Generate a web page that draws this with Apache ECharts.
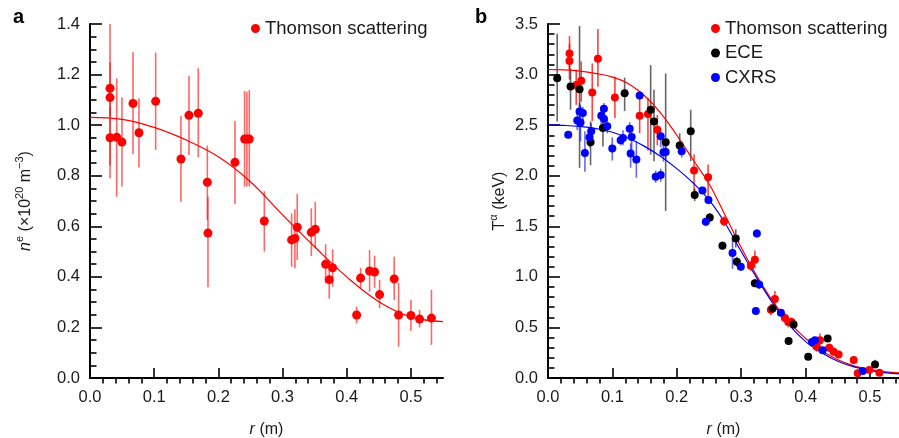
<!DOCTYPE html>
<html><head><meta charset="utf-8">
<script src="https://cdn.jsdelivr.net/npm/echarts@6/dist/echarts.min.js"></script>
<style>html,body{margin:0;padding:0;background:#fff}#c{width:899px;height:438px}</style>
</head><body><div id="c"></div>
<script>
// ---- Panel a: electron density (Thomson scattering) ----
const neR  = [0.0312,0.0312,0.0312,0.0416,0.0498,0.067,0.0763,0.1023,0.1417,0.1542,0.1687,0.1828,0.1838,0.2259,0.2409,0.2445,0.2482,0.2716,0.3141,0.3193,0.3229,0.3448,0.351,0.3671,0.3728,0.378,0.4154,0.4216,0.4356,0.4434,0.4512,0.474,0.4808,0.50,0.5135,0.532];
const neV  = [1.146,1.109,0.950,0.952,0.933,1.086,0.970,1.094,0.866,1.039,1.047,0.774,0.573,0.853,0.945,0.945,0.945,0.621,0.546,0.552,0.596,0.576,0.588,0.450,0.389,0.436,0.249,0.395,0.423,0.419,0.330,0.392,0.249,0.247,0.233,0.237];
const neLo = [1.04,0.79,0.84,0.717,0.757,0.885,0.832,0.902,0.697,0.882,0.873,0.625,0.359,0.688,0.757,0.757,0.757,0.50,0.44,0.434,0.467,0.482,0.513,0.374,0.314,0.361,0.216,0.355,0.341,0.357,0.276,0.308,0.124,0.186,0.20,0.131];
const neHi = [1.25,1.40,1.07,1.185,1.11,1.288,1.106,1.287,1.036,1.194,1.225,0.919,0.717,1.016,1.135,1.132,1.139,0.739,0.651,0.667,0.728,0.671,0.697,0.529,0.46,0.509,0.282,0.436,0.506,0.484,0.388,0.48,0.377,0.308,0.269,0.348];
const neFitR = [0,0.05,0.1,0.15,0.2,0.25,0.3,0.35,0.4,0.45,0.5,0.55];
const neFitV = [1.031,1.023,0.991,0.941,0.875,0.776,0.645,0.519,0.40,0.302,0.242,0.223];

// ---- Panel b: temperatures ----
const tsR  = [0.0334,0.0334,0.0438,0.0516,0.0687,0.0775,0.1039,0.1423,0.1552,0.1698,0.2268,0.2486,0.2734,0.3149,0.3212,0.346,0.3523,0.3678,0.373,0.3782,0.4171,0.4222,0.4367,0.4435,0.4513,0.4747,0.4809,0.4989,0.5145];
const tsT  = [3.209,3.133,2.897,2.94,2.822,3.156,2.773,2.593,2.609,2.455,2.052,1.986,1.551,1.111,1.17,0.675,0.78,0.593,0.554,0.554,0.308,0.374,0.298,0.259,0.233,0.177,0.046,0.079,0.052];
const tsLo = [3.05,2.95,2.70,2.73,2.54,2.88,2.57,2.42,2.25,2.30,1.85,1.73,1.50,1.06,1.09,0.62,0.70,0.55,0.50,0.51,0.26,0.30,0.26,0.22,0.20,0.14,0.02,0.05,0.03];
const tsHi = [3.38,3.30,3.05,3.13,3.11,3.45,2.98,2.82,2.77,2.60,2.21,2.11,1.60,1.16,1.26,0.73,0.86,0.64,0.61,0.60,0.35,0.44,0.34,0.30,0.27,0.21,0.07,0.11,0.08];

const eceR  = [0.0143,0.035,0.049,0.0661,0.0853,0.119,0.1594,0.1646,0.1827,0.2045,0.2216,0.2278,0.2512,0.2709,0.2916,0.2932,0.3212,0.3487,0.3736,0.3813,0.404,0.4342,0.5078];
const eceT  = [2.963,2.881,2.855,2.33,2.471,2.815,2.652,2.537,2.33,2.298,2.439,1.809,1.586,1.308,1.38,1.15,0.937,0.688,0.367,0.528,0.21,0.39,0.134];
const eceLo = [2.537,2.652,2.078,2.104,2.29,2.64,2.209,2.144,1.652,2.21,2.144,1.75,1.54,1.27,1.29,1.10,0.90,0.65,0.33,0.49,0.18,0.36,0.10];
const eceHi = [3.405,3.06,3.48,2.537,2.70,2.97,3.094,2.85,3.01,2.42,2.652,1.87,1.63,1.35,1.47,1.20,0.98,0.73,0.40,0.57,0.24,0.42,0.18];

const cxR  = [0.0314,0.0454,0.049,0.0505,0.0541,0.0573,0.0645,0.0671,0.0827,0.0868,0.0868,0.092,0.0998,0.1128,0.1164,0.1268,0.1283,0.1299,0.1372,0.1423,0.1672,0.175,0.175,0.1792,0.1827,0.2076,0.2398,0.245,0.2491,0.2865,0.2994,0.3227,0.3243,0.3279,0.3616,0.4098,0.4145,0.4264,0.4886];
const cxT  = [2.406,2.547,2.635,2.527,2.619,2.225,2.38,2.439,2.593,2.662,2.563,2.488,2.268,2.35,2.373,2.465,2.219,2.383,2.16,2.793,1.989,2.006,2.389,2.232,2.235,2.242,1.855,1.544,1.76,1.236,1.101,0.662,1.429,0.924,0.646,0.357,0.374,0.275,0.069];
const cxLo = [2.37,2.45,2.55,2.34,2.55,2.04,2.28,2.36,2.50,2.60,2.45,2.42,2.15,2.30,2.30,2.40,2.08,2.25,1.98,2.76,1.93,1.94,2.28,2.14,2.16,2.18,1.82,1.50,1.72,1.08,1.06,0.63,1.39,0.88,0.61,0.33,0.35,0.25,0.05];
const cxHi = [2.44,2.65,2.72,2.70,2.68,2.44,2.48,2.52,2.68,2.72,2.66,2.56,2.38,2.40,2.45,2.53,2.32,2.50,2.34,2.83,2.05,2.07,2.45,2.32,2.31,2.30,1.89,1.58,1.80,1.39,1.14,0.70,1.47,0.96,0.68,0.39,0.40,0.30,0.09];

const tFitR    = [0,0.025,0.05,0.075,0.1,0.125,0.15,0.175,0.2,0.225,0.25,0.275,0.3,0.325,0.35,0.375,0.4,0.425,0.45,0.475,0.5,0.525,0.545];
const tFitRed  = [3.05,3.047,3.035,3.01,2.975,2.91,2.79,2.62,2.40,2.16,1.92,1.61,1.29,1.0,0.75,0.55,0.39,0.27,0.18,0.12,0.085,0.06,0.05];
const tFitBlue = [2.5,2.497,2.487,2.465,2.43,2.37,2.29,2.19,2.07,1.93,1.76,1.53,1.25,0.98,0.73,0.52,0.36,0.25,0.165,0.11,0.075,0.05,0.04];

const xMajor = [0,0.1,0.2,0.3,0.4,0.5];
const xMinor = [0.02,0.04,0.06,0.08,0.12,0.14,0.16,0.18,0.22,0.24,0.26,0.28,0.32,0.34,0.36,0.38,0.42,0.44,0.46,0.48,0.52,0.54];

const FONT = 'Liberation Sans, Arial, Helvetica, sans-serif';
const TXT = '#1a1a1a';
const TICKFS = 16.5;

function zip(a,b){ return a.map((v,i)=>[v,b[i]]); }
function errSeries(r, lo, hi, color, gi, w, z){
  return {
    type:'custom', xAxisIndex: gi*2, yAxisIndex: gi, silent:true, z:z,
    data: r.map((x,i)=>[x, lo[i], hi[i]]),
    encode:{x:0, y:[1,2]},
    renderItem:(p, api)=>{
      const a = api.coord([api.value(0), api.value(1)]);
      const b = api.coord([api.value(0), api.value(2)]);
      return {type:'line', shape:{x1:a[0],y1:a[1],x2:b[0],y2:b[1]}, style:{stroke:color, lineWidth:w}};
    }
  };
}
function ptSeries(name, r, v, color, gi, size, z){
  return {type:'scatter', name:name, xAxisIndex: gi*2, yAxisIndex: gi, z:z,
    data: zip(r,v), symbol:'circle', symbolSize:size,
    itemStyle:{color:color, opacity:1}, emphasis:{disabled:true}};
}
function fitSeries(r, v, color, gi, z){
  return {type:'line', xAxisIndex: gi*2, yAxisIndex: gi, z:z, data: zip(r,v),
    smooth:0.4, showSymbol:false, symbol:'none', silent:true,
    lineStyle:{color:color, width:1.2}};
}

const RICH = {
  t:{fontFamily:FONT, fontSize:16, color:TXT, lineHeight:20, verticalAlign:'bottom'},
  i:{fontFamily:FONT, fontSize:16, color:TXT, fontStyle:'italic', lineHeight:20, verticalAlign:'bottom'},
  s:{fontFamily:FONT, fontSize:11, color:TXT, lineHeight:12, verticalAlign:'top'}
};

function xMain(gi, max){
  return {type:'value', gridIndex:gi, min:0, max:max, interval:0.1,
    name:'{i|r}{t| (m)}', nameLocation:'middle', nameGap:40,
    nameTextStyle:{fontFamily:FONT, fontSize:16, color:TXT, rich:RICH},
    axisLine:{show:true, onZero:false, lineStyle:{color:'#000', width:2}},
    axisTick:{show:true, inside:true, length:10, lineStyle:{color:'#000', width:1.6}, customValues:xMajor},
    axisLabel:{show:true, margin:11, fontFamily:FONT, fontSize:TICKFS, color:TXT, customValues:xMajor,
      formatter:v=>v.toFixed(1)},
    splitLine:{show:false}, minorTick:{show:false}};
}
function xMinorAxis(gi, max){
  return {type:'value', gridIndex:gi, min:0, max:max, interval:0.1,
    axisLine:{show:false}, axisLabel:{show:false}, splitLine:{show:false},
    axisTick:{show:true, inside:true, length:5.5, lineStyle:{color:'#000', width:1.6}, customValues:xMinor}};
}
function yAxis(gi, max, interval, split, name, gap){
  return {type:'value', gridIndex:gi, min:0, max:max, interval:interval,
    name:name, nameLocation:'middle', nameGap:gap, nameRotate:90,
    nameTextStyle:{fontFamily:FONT, fontSize:16, color:TXT, rich:RICH},
    axisLine:{show:true, onZero:false, lineStyle:{color:'#000', width:2}},
    axisTick:{show:true, inside:true, length:12, lineStyle:{color:'#000', width:1.6}},
    minorTick:{show:true, splitNumber:split, length:6.5, lineStyle:{color:'#000', width:1.6}},
    axisLabel:{margin:10, fontFamily:FONT, fontSize:TICKFS, color:TXT, formatter:v=>v.toFixed(1)},
    splitLine:{show:false}, minorSplitLine:{show:false}};
}

const chart = echarts.init(document.getElementById('c'), null, {renderer:'canvas'});
chart.setOption({
  animation:false,
  backgroundColor:'#fff',
  textStyle:{fontFamily:FONT},
  grid:[
    {left:90, top:24, width:353, height:354, containLabel:false, outerBoundsMode:'none'},
    {left:548, top:24, width:351, height:354, containLabel:false, outerBoundsMode:'none'}
  ],
  xAxis:[ xMain(0,0.55), xMinorAxis(0,0.55), xMain(1,0.545), xMinorAxis(1,0.545) ],
  yAxis:[
    yAxis(0, 1.4, 0.2, 4, '{i|n}{s|e}{t| (×10}{s|20}{t| m}{s|−3}{t|)}', 56),
    yAxis(1, 3.5, 0.5, 5, '{t|T}{s|α}{t| (keV)}', 40)
  ],
  legend:[
    {data:['Thomson scattering'], left:246, top:14, icon:'circle', itemWidth:9, itemHeight:9, itemGap:8,
      textStyle:{fontFamily:FONT, fontSize:18.5, color:TXT}, selectedMode:false},
    {data:['Thomson scattering','ECE','CXRS'], orient:'vertical', left:706, top:14, icon:'circle', itemWidth:9, itemHeight:9, itemGap:5.5,
      textStyle:{fontFamily:FONT, fontSize:18.5, color:TXT}, selectedMode:false}
  ],
  graphic:[
    {type:'text', left:13, top:7, style:{text:'a', fontFamily:FONT, fontWeight:'bold', fontSize:20, fill:'#000'}},
    {type:'text', left:475, top:7, style:{text:'b', fontFamily:FONT, fontWeight:'bold', fontSize:20, fill:'#000'}}
  ],
  series:[
    errSeries(neR, neLo, neHi, 'rgba(255,0,0,0.6)', 0, 1.6, 2),
    fitSeries(neFitR, neFitV, '#ff0000', 0, 3),
    ptSeries('Thomson scattering', neR, neV, '#ff0000', 0, 9, 4),

    errSeries(tsR, tsLo, tsHi, 'rgba(255,0,0,0.75)', 1, 1.6, 2),
    errSeries(eceR, eceLo, eceHi, 'rgba(0,0,0,0.6)', 1, 1.6, 2),
    errSeries(cxR, cxLo, cxHi, 'rgba(0,0,255,0.6)', 1, 1.6, 2),
    fitSeries(tFitR, tFitRed, '#ff0000', 1, 3),
    fitSeries(tFitR, tFitBlue, '#0000ff', 1, 3),
    ptSeries('Thomson scattering', tsR, tsT, '#ff0000', 1, 8, 4),
    ptSeries('ECE', eceR, eceT, '#000000', 1, 8, 5),
    ptSeries('CXRS', cxR, cxT, '#0000ff', 1, 8, 6)
  ]
});
</script></body></html>
